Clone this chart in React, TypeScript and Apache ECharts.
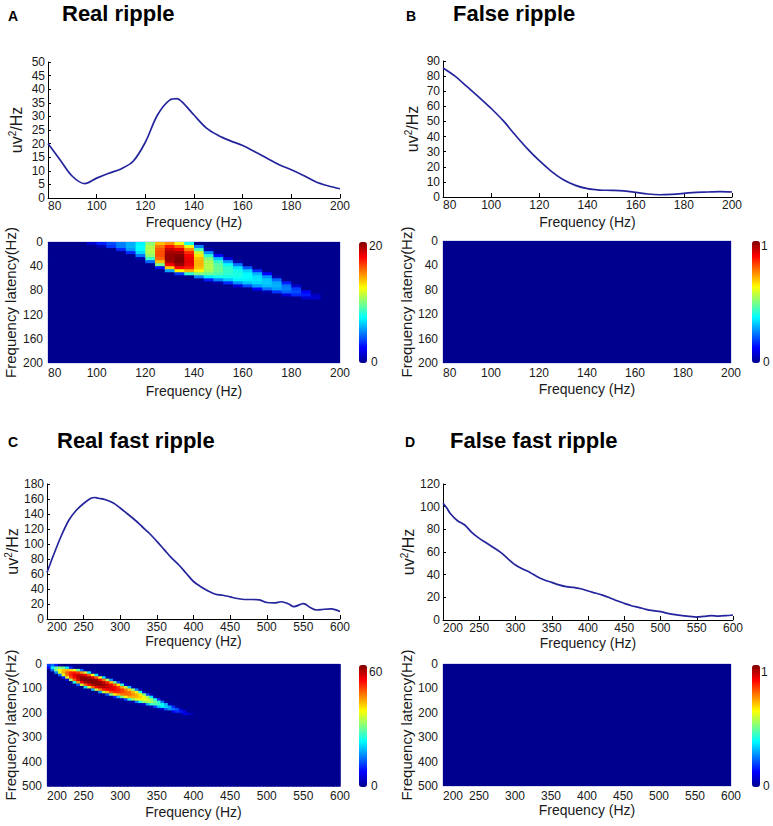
import React, { useEffect, useRef } from "react";
import * as echarts from "echarts";

// ---------------- Data ----------------
// Panel A — Real ripple (power spectrum)
const freqA = [80, 85, 90, 95, 100, 105, 110, 115, 120, 125, 130, 133, 135, 140, 145, 150, 155, 160, 165, 170, 175, 180, 185, 190, 195, 200];
const powerA = [20, 14, 8, 5.3, 7.3, 9.1, 10.7, 13.5, 20.5, 30.5, 36, 36.5, 35.4, 30.5, 25.8, 23, 21, 19.3, 17, 14.6, 12.2, 10.4, 8.3, 6, 4.5, 3.4];

// Panel B — False ripple
const freqB = [80, 85, 90, 95, 100, 105, 110, 115, 120, 125, 130, 135, 140, 145, 150, 155, 160, 165, 170, 175, 180, 185, 190, 195, 200];
const powerB = [85.4, 80, 73, 66, 58.6, 50.5, 41, 32, 24, 17, 11.4, 7.7, 5.5, 4.6, 4.4, 4, 3.1, 2, 1.5, 1.8, 2.4, 3.1, 3.3, 3.5, 3.3];

// Panel C — Real fast ripple
const freqC = [200, 210, 220, 230, 240, 250, 260, 265, 270, 280, 290, 300, 310, 320, 330, 340, 350, 360, 370, 380, 390, 400, 410, 420, 430, 440, 450, 460, 470, 480, 490, 500, 510, 520, 530, 537, 550, 560, 568, 578, 588, 600];
const powerC = [62, 88, 112, 132, 145, 154, 161, 162, 161, 159, 155, 148, 140, 132, 123, 114, 103.5, 92.5, 81.5, 72, 61, 50, 43, 37.4, 33, 31.7, 29.5, 27.3, 26, 26, 25.5, 22, 21.5, 23, 20, 16.5, 20.5, 15, 12, 13, 13.5, 10];

// Panel D — False fast ripple
const freqD = [200, 205, 210, 220, 230, 240, 250, 260, 270, 280, 290, 300, 310, 320, 330, 340, 350, 360, 370, 380, 390, 400, 410, 420, 430, 440, 450, 460, 470, 480, 490, 500, 510, 520, 530, 540, 550, 560, 570, 580, 590, 600];
const powerD = [103, 99, 94, 87.6, 83.8, 77, 72, 68, 63.8, 59.4, 53.8, 48.5, 45, 42, 38.2, 35.3, 33.2, 31, 29.4, 28.8, 27.6, 25.6, 23.8, 22, 19.7, 17, 14.7, 12.6, 11.2, 9.4, 8.2, 7.4, 5.9, 4.7, 3.8, 3.2, 2.6, 3.2, 3.8, 3.5, 3.8, 4.4];

// Tick labels
const ticksFreqRipple = [80, 100, 120, 140, 160, 180, 200];
const ticksFreqFast = [200, 250, 300, 350, 400, 450, 500, 550, 600];
const ticksPowA = [0, 5, 10, 15, 20, 25, 30, 35, 40, 45, 50];
const ticksPowB = [0, 10, 20, 30, 40, 50, 60, 70, 80, 90];
const ticksPowC = [0, 20, 40, 60, 80, 100, 120, 140, 160, 180];
const ticksPowD = [0, 20, 40, 60, 80, 100, 120];
const ticksLatRipple = [0, 40, 80, 120, 160, 200];
const ticksLatFast = [0, 100, 200, 300, 400, 500];

// Colour bar ranges
const colorbarA = [0, 20];
const colorbarB = [0, 1];
const colorbarC = [0, 60];
const colorbarD = [0, 1];

// Time-frequency maps: [frequency centre, first latency centre, values down the column]
// cells not listed are 0
type HeatCol = [number, number, number[]];
const heatCellA = [4, 5]; // Hz, latency
const heatColsA: HeatCol[] = [
  [98, 2.5, [1.4]],
  [102, 2.5, [3, 0.7]],
  [106, 2.5, [4, 3.5]],
  [110, 2.5, [5, 4.9, 3.2]],
  [114, 2.5, [5.9, 6, 5.5, 3.3]],
  [118, 2.5, [7.3, 7.5, 7.5, 6.8, 4.8, 0.6]],
  [122, 2.5, [10.2, 10.9, 11, 11, 10.4, 8.5, 4.5]],
  [126, 2.5, [13.8, 15.2, 15.8, 16, 16, 15.5, 13.7, 9.8, 2.8]],
  [130, 2.5, [14.7, 17.1, 18.5, 19.2, 19.5, 19.5, 19.2, 17.6, 13.5, 5.7]],
  [134, 2.5, [12.2, 15.6, 17.9, 19.2, 19.8, 20, 20, 19.5, 17.5, 12.6, 3.7]],
  [138, 2.5, [7.9, 12.1, 14.9, 16.7, 17.6, 17.9, 18, 17.9, 16.9, 14, 8.4]],
  [142, 7.5, [5, 8.9, 11.5, 13, 13.8, 14, 14, 13.7, 12.6, 10, 5.1]],
  [146, 12.5, [0.6, 5.3, 8.3, 10, 10.8, 11, 11, 10.7, 9.6, 7.2, 3]],
  [150, 22.5, [2.7, 6.4, 8.5, 9.3, 9.5, 9.5, 9.1, 7.8, 5.1, 0.6]],
  [154, 27.5, [1.6, 5.5, 7.6, 8.4, 8.5, 8.4, 7.9, 6.4, 3.3]],
  [158, 32.5, [0.6, 4.8, 7, 7.9, 8, 7.9, 7.3, 5.4, 1.6]],
  [162, 42.5, [4.2, 6.6, 7.4, 7.5, 7.3, 6.4, 4]],
  [166, 47.5, [3.3, 6, 6.9, 7, 6.8, 5.6, 2.5]],
  [170, 52.5, [2.5, 5.4, 6.4, 6.5, 6.2, 4.7, 0.6]],
  [174, 57.5, [0.6, 4.5, 5.8, 6, 5.6, 3.5]],
  [178, 67.5, [3, 4.8, 5, 4.5, 1.7]],
  [182, 72.5, [1.4, 3.7, 4, 3.3]],
  [186, 82.5, [2.5, 3, 1.5]],
  [190, 87.5, [1, 1.5]],
];
const heatCellB = [12, 20];
const heatColsB: HeatCol[] = [];
const heatCellC = [5, 10];
const heatColsC: HeatCol[] = [
  [202.5, 5, [11, 8]],
  [207.5, 5, [14, 22, 14]],
  [212.5, 5, [9, 29, 30, 16]],
  [217.5, 5, [1, 30, 37, 35, 14]],
  [222.5, 15, [29, 41, 42, 36, 9]],
  [227.5, 15, [21, 42, 47, 46, 36, 5]],
  [232.5, 15, [10, 40, 50, 51, 48, 31]],
  [237.5, 15, [2, 36, 51, 54, 53, 47, 24]],
  [242.5, 25, [28, 49, 56, 57, 55, 43, 13]],
  [247.5, 25, [14, 44, 56, 59, 59, 53, 34]],
  [252.5, 25, [2, 34, 53, 59, 60, 58, 47, 21]],
  [257.5, 35, [21, 47, 58, 60, 59, 53, 34]],
  [262.5, 35, [2, 37, 54, 60, 60, 57, 46, 17]],
  [267.5, 45, [21, 47, 58, 60, 59, 53, 34]],
  [272.5, 45, [2, 36, 53, 59, 59, 56, 45, 17]],
  [277.5, 55, [20, 46, 56, 58, 57, 51, 33]],
  [282.5, 55, [2, 32, 50, 56, 56, 53, 41, 13]],
  [287.5, 65, [16, 42, 53, 55, 54, 48, 29]],
  [292.5, 65, [2, 29, 47, 53, 53, 50, 38, 9]],
  [297.5, 75, [12, 39, 49, 51, 50, 42, 19]],
  [302.5, 75, [2, 25, 43, 49, 49, 45, 30, 2]],
  [307.5, 85, [4, 34, 45, 47, 46, 37, 12]],
  [312.5, 95, [19, 40, 46, 46, 42, 25, 2]],
  [317.5, 95, [2, 31, 42, 44, 42, 31, 2]],
  [322.5, 105, [15, 36, 42, 42, 36, 15]],
  [327.5, 105, [2, 24, 38, 40, 38, 24, 2]],
  [332.5, 115, [4, 30, 37, 37, 30, 4]],
  [337.5, 125, [12, 32, 35, 33, 18]],
  [342.5, 125, [2, 21, 31, 32, 25, 2]],
  [347.5, 135, [2, 24, 29, 27, 11]],
  [352.5, 145, [10, 25, 26, 19, 2]],
  [357.5, 155, [14, 23, 22, 4]],
  [362.5, 155, [1, 18, 20, 13]],
  [367.5, 165, [3, 17, 16]],
  [372.5, 175, [10, 14, 7]],
  [377.5, 175, [1, 12, 10]],
  [382.5, 185, [4, 9, 1]],
  [387.5, 195, [6, 5]],
  [392.5, 205, [5]],
  [397.5, 205, [2]],
];
const heatCellD = [40, 50];
const heatColsD: HeatCol[] = [];

// ---------------- Styles ----------------
const FONT = "'Liberation Sans', Arial, sans-serif";
const LINE_COLOR = "#24249c";
const TEXT_COLOR = "#1a1a1a";
const JET = ["#00008f", "#0000ff", "#0080ff", "#00ffff", "#80ff80", "#ffff00", "#ff8000", "#ff0000", "#800000"];

function spec(ticks: number[]) {
  return { min: ticks[0], max: ticks[ticks.length - 1], interval: ticks[1] - ticks[0] };
}

function buildCells(cols: HeatCol[], fTicks: number[], lTicks: number[], cell: number[]) {
  const [fStep, lStep] = cell;
  const fMin = fTicks[0], fMax = fTicks[fTicks.length - 1];
  const lMin = lTicks[0], lMax = lTicks[lTicks.length - 1];
  const nF = Math.round((fMax - fMin) / fStep);
  const nL = Math.round((lMax - lMin) / lStep);
  const m: number[][] = [];
  for (let i = 0; i < nF; i++) m.push(new Array(nL).fill(0));
  cols.forEach(([f, l0, vals]) => {
    const fi = Math.round((f - fMin - fStep / 2) / fStep);
    const li0 = Math.round((l0 - lMin - lStep / 2) / lStep);
    vals.forEach((v, k) => {
      if (fi >= 0 && fi < nF && li0 + k < nL) m[fi][li0 + k] = v;
    });
  });
  const out: number[][] = [];
  for (let i = 0; i < nF; i++)
    for (let j = 0; j < nL; j++) out.push([fMin + (i + 0.5) * fStep, lMin + (j + 0.5) * lStep, m[i][j]]);
  return out;
}

const cellRenderer = (cell: number[]) => (params: any, api: any) => {
  const f = api.value(0), l = api.value(1);
  const a = api.coord([f - cell[0] / 2, l - cell[1] / 2]);
  const b = api.coord([f + cell[0] / 2, l + cell[1] / 2]);
  return {
    type: "rect",
    shape: {
      x: Math.min(a[0], b[0]),
      y: Math.min(a[1], b[1]),
      width: Math.abs(b[0] - a[0]) + 0.7,
      height: Math.abs(b[1] - a[1]) + 0.7,
    },
    style: { fill: api.visual("color") },
  };
};

const panels = [
  {
    letter: "A", title: "Real ripple", letterX: 8, letterY: 15.5, titleX: 62, titleY: 13.5,
    freq: freqA, power: powerA, fTicks: ticksFreqRipple, pTicks: ticksPowA, lTicks: ticksLatRipple,
    cols: heatColsA, cell: heatCellA, bar: colorbarA,
    line: { left: 48, top: 62, width: 292, height: 136 }, lineXGap: 17, lineYGap: 23,
    heat: { left: 48, top: 242, width: 292, height: 121 }, heatXGap: 21, heatYGap: 30,
    cb: { left: 359, top: 242, height: 121, labelX: 369, topLabelY: 246, botLabelY: 362 },
  },
  {
    letter: "B", title: "False ripple", letterX: 406, letterY: 15.5, titleX: 453, titleY: 13.5,
    freq: freqB, power: powerB, fTicks: ticksFreqRipple, pTicks: ticksPowB, lTicks: ticksLatRipple,
    cols: heatColsB, cell: heatCellB, bar: colorbarB,
    line: { left: 443, top: 61, width: 289, height: 136 }, lineXGap: 18, lineYGap: 22,
    heat: { left: 443, top: 241, width: 288, height: 122 }, heatXGap: 19, heatYGap: 26,
    cb: { left: 752, top: 241, height: 122, labelX: 761, topLabelY: 246, botLabelY: 362 },
  },
  {
    letter: "C", title: "Real fast ripple", letterX: 8, letterY: 441.7, titleX: 57, titleY: 440.5,
    freq: freqC, power: powerC, fTicks: ticksFreqFast, pTicks: ticksPowC, lTicks: ticksLatFast,
    cols: heatColsC, cell: heatCellC, bar: colorbarC,
    line: { left: 47, top: 484, width: 293, height: 135 }, lineXGap: 15, lineYGap: 24,
    heat: { left: 47, top: 664, width: 293, height: 122 }, heatXGap: 19, heatYGap: 29,
    cb: { left: 359, top: 665, height: 122, labelX: 369, topLabelY: 672, botLabelY: 786 },
  },
  {
    letter: "D", title: "False fast ripple", letterX: 405, letterY: 441.7, titleX: 450, titleY: 440.5,
    freq: freqD, power: powerD, fTicks: ticksFreqFast, pTicks: ticksPowD, lTicks: ticksLatFast,
    cols: heatColsD, cell: heatCellD, bar: colorbarD,
    line: { left: 443, top: 484, width: 290, height: 136 }, lineXGap: 16, lineYGap: 22,
    heat: { left: 443, top: 664, width: 288, height: 122 }, heatXGap: 16, heatYGap: 26,
    cb: { left: 752, top: 665, height: 122, labelX: 761, topLabelY: 672, botLabelY: 786 },
  },
];

function buildOption() {
  const grid: any[] = [];
  const xAxis: any[] = [];
  const yAxis: any[] = [];
  const series: any[] = [];
  const visualMap: any[] = [];
  const graphic: any[] = [];

  const tickLabel = { fontSize: 12, color: TEXT_COLOR, fontFamily: FONT };
  const nameX = { fontSize: 14, color: TEXT_COLOR, fontFamily: FONT };
  const nameY = {
    fontSize: 16, color: TEXT_COLOR, fontFamily: FONT,
    rich: { sup: { fontSize: 10, verticalAlign: "top", color: TEXT_COLOR, fontFamily: FONT, padding: [0, 0, 8, 0] } },
  };

  panels.forEach((p) => {
    // line chart grid
    const gLine = grid.length;
    grid.push({ ...p.line, containLabel: false, outerBoundsMode: "none" });
    xAxis.push({
      gridIndex: gLine, type: "value", ...spec(p.fTicks),
      name: "Frequency (Hz)", nameLocation: "middle", nameGap: p.lineXGap, nameTextStyle: nameX,
      axisLine: { show: true, onZero: false, lineStyle: { color: "#000", width: 1 } },
      axisTick: { show: true, inside: true, length: 4, lineStyle: { color: "#000" } },
      axisLabel: { ...tickLabel, margin: 2, showMinLabel: true, showMaxLabel: true, alignMinLabel: "left" },
      splitLine: { show: false },
    });
    yAxis.push({
      gridIndex: gLine, type: "value", ...spec(p.pTicks),
      name: "uv{sup|2}/Hz", nameLocation: "middle", nameGap: p.lineYGap, nameTextStyle: nameY,
      axisLine: { show: true, onZero: false, lineStyle: { color: "#000", width: 1 } },
      axisTick: { show: true, inside: true, length: 3, lineStyle: { color: "#000" } },
      axisLabel: { ...tickLabel, margin: 3, showMinLabel: true, showMaxLabel: true },
      splitLine: { show: false },
    });
    series.push({
      type: "line", xAxisIndex: gLine, yAxisIndex: gLine,
      data: p.freq.map((f, i) => [f, p.power[i]]),
      showSymbol: false, smooth: 0.35, silent: true,
      lineStyle: { color: LINE_COLOR, width: 1.7 },
      itemStyle: { color: LINE_COLOR },
    });

    // heat map grid
    const gHeat = grid.length;
    grid.push({
      ...p.heat, containLabel: false, outerBoundsMode: "none",
      show: true, borderColor: "#b6b6e8", borderWidth: 1, backgroundColor: JET[0],
    });
    xAxis.push({
      gridIndex: gHeat, type: "value", ...spec(p.fTicks),
      name: "Frequency (Hz)", nameLocation: "middle", nameGap: p.heatXGap, nameTextStyle: nameX,
      axisLine: { show: false }, axisTick: { show: false },
      axisLabel: { ...tickLabel, margin: 4, showMinLabel: true, showMaxLabel: true, alignMinLabel: "left" },
      splitLine: { show: false },
    });
    yAxis.push({
      gridIndex: gHeat, type: "value", inverse: true, ...spec(p.lTicks),
      name: "Frequency latency(Hz)", nameLocation: "middle", nameGap: p.heatYGap,
      nameTextStyle: { fontSize: 15, color: TEXT_COLOR, fontFamily: FONT },
      axisLine: { show: false }, axisTick: { show: false },
      axisLabel: { ...tickLabel, margin: 5, showMinLabel: true, showMaxLabel: true },
      splitLine: { show: false },
    });
    const sIdx = series.length;
    series.push({
      type: "custom", xAxisIndex: gHeat, yAxisIndex: gHeat,
      data: buildCells(p.cols, p.fTicks, p.lTicks, p.cell),
      renderItem: cellRenderer(p.cell), clip: true, silent: true,
      encode: { x: 0, y: 1 },
    });
    visualMap.push({
      type: "continuous", seriesIndex: sIdx, dimension: 2,
      min: p.bar[0], max: p.bar[1], inRange: { color: JET },
      left: p.cb.left, top: p.cb.top, itemWidth: 8, itemHeight: p.cb.height,
      padding: 0, calculable: false, hoverLink: false, show: true, text: null,
    });

    // titles & colour bar labels
    graphic.push(
      { type: "text", x: p.letterX, y: p.letterY, silent: true,
        style: { text: p.letter, fontSize: 14, fontWeight: "bold", fontFamily: FONT, fill: "#000", verticalAlign: "middle" } },
      { type: "text", x: p.titleX, y: p.titleY, silent: true,
        style: { text: p.title, fontSize: 22, fontWeight: "bold", fontFamily: FONT, fill: "#000", verticalAlign: "middle" } },
      { type: "text", x: p.cb.labelX, y: p.cb.topLabelY, silent: true,
        style: { text: String(p.bar[1]), fontSize: 12, fontFamily: FONT, fill: TEXT_COLOR, verticalAlign: "middle" } },
      { type: "text", x: p.cb.labelX + 2, y: p.cb.botLabelY, silent: true,
        style: { text: String(p.bar[0]), fontSize: 12, fontFamily: FONT, fill: TEXT_COLOR, verticalAlign: "middle" } },
    );
  });

  return {
    animation: false,
    backgroundColor: "#ffffff",
    grid, xAxis, yAxis, series, visualMap, graphic,
  };
}

export default function App() {
  const ref = useRef<HTMLDivElement>(null);
  useEffect(() => {
    if (!ref.current) return;
    const chart = echarts.init(ref.current, undefined, { renderer: "svg" });
    chart.setOption(buildOption() as any);
    return () => chart.dispose();
  }, []);
  return (
    <div
      ref={ref}
      style={{ position: "absolute", left: 0, top: 0, width: 773, height: 826, background: "#fff" }}
    />
  );
}
